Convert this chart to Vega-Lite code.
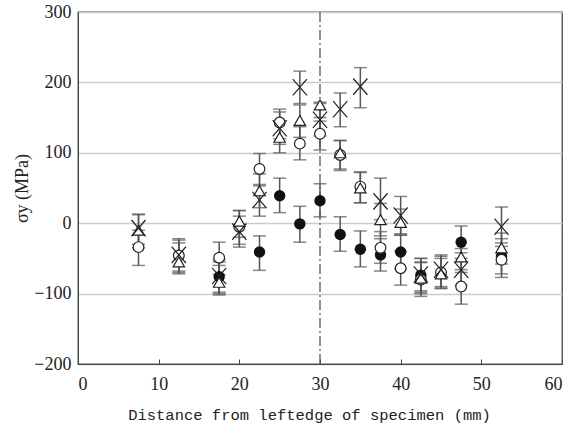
{
  "$schema": "https://vega.github.io/schema/vega-lite/v6.json",
  "width": 484,
  "height": 352,
  "autosize": {"type": "none"},
  "padding": {"left": 78, "top": 12, "right": 8, "bottom": 67},
  "background": "white",
  "config": {
    "view": {"stroke": "#444", "strokeWidth": 1.3},
    "axis": {"labelFont": "Liberation Serif", "labelFontSize": 18, "labelColor": "#222", "domainColor": "#444", "tickColor": "#444", "titleColor": "#222", "titleFontWeight": "normal"}
  },
  "data": {
    "values": [
      {"s": "filled", "x": 17.5, "y": -76, "lo": -100, "hi": -52},
      {"s": "filled", "x": 22.5, "y": -41, "lo": -67, "hi": -18},
      {"s": "filled", "x": 25, "y": 39, "lo": 15, "hi": 64},
      {"s": "filled", "x": 27.5, "y": -1, "lo": -27, "hi": 24},
      {"s": "filled", "x": 30, "y": 32, "lo": 9, "hi": 56},
      {"s": "filled", "x": 32.5, "y": -16, "lo": -40, "hi": 9},
      {"s": "filled", "x": 35, "y": -37, "lo": -62, "hi": -11},
      {"s": "filled", "x": 37.5, "y": -45, "lo": -68, "hi": -22},
      {"s": "filled", "x": 40, "y": -41, "lo": -65, "hi": -17},
      {"s": "filled", "x": 42.5, "y": -74, "lo": -98, "hi": -50},
      {"s": "filled", "x": 47.5, "y": -27, "lo": -50, "hi": -4},
      {"s": "filled", "x": 52.5, "y": -47, "lo": -72, "hi": -22},
      {"s": "open", "x": 7.5, "y": -34, "lo": -60, "hi": -10},
      {"s": "open", "x": 12.5, "y": -46, "lo": -70, "hi": -22},
      {"s": "open", "x": 17.5, "y": -49, "lo": -73, "hi": -27},
      {"s": "open", "x": 20, "y": -5, "lo": -30, "hi": 18},
      {"s": "open", "x": 22.5, "y": 77, "lo": 53, "hi": 99},
      {"s": "open", "x": 25, "y": 143, "lo": 120, "hi": 162},
      {"s": "open", "x": 27.5, "y": 113, "lo": 90, "hi": 137},
      {"s": "open", "x": 30, "y": 127, "lo": 104, "hi": 150},
      {"s": "open", "x": 32.5, "y": 97, "lo": 75, "hi": 117},
      {"s": "open", "x": 35, "y": 52, "lo": 29, "hi": 73},
      {"s": "open", "x": 37.5, "y": -35, "lo": -57, "hi": -12},
      {"s": "open", "x": 40, "y": -64, "lo": -88, "hi": -40},
      {"s": "open", "x": 42.5, "y": -80, "lo": -104, "hi": -56},
      {"s": "open", "x": 45, "y": -70, "lo": -93, "hi": -47},
      {"s": "open", "x": 47.5, "y": -90, "lo": -115, "hi": -66},
      {"s": "open", "x": 52.5, "y": -52, "lo": -77, "hi": -28},
      {"s": "tri", "x": 7.5, "y": -10, "lo": -35, "hi": 12},
      {"s": "tri", "x": 12.5, "y": -55, "lo": -72, "hi": -28},
      {"s": "tri", "x": 17.5, "y": -84, "lo": -102, "hi": -60},
      {"s": "tri", "x": 20, "y": 3, "lo": -20, "hi": 18},
      {"s": "tri", "x": 22.5, "y": 46, "lo": 22, "hi": 70},
      {"s": "tri", "x": 25, "y": 122, "lo": 100, "hi": 145},
      {"s": "tri", "x": 27.5, "y": 146, "lo": 122, "hi": 168},
      {"s": "tri", "x": 30, "y": 168, "lo": 145, "hi": 172},
      {"s": "tri", "x": 32.5, "y": 100, "lo": 77, "hi": 118},
      {"s": "tri", "x": 35, "y": 50, "lo": 29, "hi": 72},
      {"s": "tri", "x": 37.5, "y": 5, "lo": -18, "hi": 28},
      {"s": "tri", "x": 40, "y": 1, "lo": -17, "hi": 20},
      {"s": "tri", "x": 42.5, "y": -78, "lo": -100, "hi": -55},
      {"s": "tri", "x": 45, "y": -72, "lo": -92, "hi": -50},
      {"s": "tri", "x": 47.5, "y": -48, "lo": -70, "hi": -36},
      {"s": "tri", "x": 52.5, "y": -35, "lo": -58, "hi": -14},
      {"s": "x", "x": 7.5, "y": -7, "lo": -30, "hi": 13},
      {"s": "x", "x": 12.5, "y": -45, "lo": -68, "hi": -24},
      {"s": "x", "x": 17.5, "y": -75, "lo": -98, "hi": -55},
      {"s": "x", "x": 20, "y": -12, "lo": -34, "hi": 10},
      {"s": "x", "x": 22.5, "y": 33, "lo": 10, "hi": 55},
      {"s": "x", "x": 25, "y": 135, "lo": 112, "hi": 158},
      {"s": "x", "x": 27.5, "y": 193, "lo": 170, "hi": 216},
      {"s": "x", "x": 30, "y": 147, "lo": 124, "hi": 170},
      {"s": "x", "x": 32.5, "y": 162, "lo": 137, "hi": 185},
      {"s": "x", "x": 35, "y": 194, "lo": 164, "hi": 221},
      {"s": "x", "x": 37.5, "y": 31, "lo": 5, "hi": 64},
      {"s": "x", "x": 40, "y": 11, "lo": -15, "hi": 38},
      {"s": "x", "x": 42.5, "y": -73, "lo": -96, "hi": -50},
      {"s": "x", "x": 45, "y": -66, "lo": -90, "hi": -45},
      {"s": "x", "x": 47.5, "y": -66, "lo": -88, "hi": -42},
      {"s": "x", "x": 52.5, "y": -5, "lo": -33, "hi": 23}
    ]
  },
  "layer": [
    {
      "mark": {"type": "errorbar", "ticks": {"color": "#555"}, "rule": {"color": "#555"}, "size": 13, "thickness": 1.5},
      "encoding": {
        "x": {"field": "x", "type": "quantitative", "scale": {"domain": [0, 60], "nice": false},
          "axis": {"values": [0, 10, 20, 30, 40, 50, 60], "grid": false, "tickSize": -5, "labelPadding": 16,
            "title": "Distance from leftedge of specimen (mm)", "titleFont": "Liberation Mono", "titleFontSize": 15.5,
            "titleX": 231, "titleY": 50, "titleBaseline": "middle"}},
        "y": {"field": "lo", "type": "quantitative", "scale": {"domain": [-200, 300], "nice": false},
          "axis": {"values": [-200, -100, 0, 100, 200, 300], "grid": true, "gridColor": "#ccc", "gridWidth": 1.5, "tickSize": 0, "labelPadding": 7,
            "title": "σy (MPa)", "titleFont": "Liberation Serif", "titleFontSize": 18, "titleX": -56, "titleBaseline": "middle"}},
        "y2": {"field": "hi"}
      }
    },
    {
      "data": {"values": [{"x": 30}]},
      "mark": {"type": "rule", "color": "#555", "strokeWidth": 1.3, "strokeDash": [10, 3, 2, 3]},
      "encoding": {"x": {"field": "x", "type": "quantitative"}}
    },
    {
      "transform": [{"filter": "datum.s == 'filled'"}],
      "mark": {"type": "point", "shape": "circle", "filled": true, "color": "#111", "size": 130, "opacity": 1},
      "encoding": {"x": {"field": "x", "type": "quantitative"}, "y": {"field": "y", "type": "quantitative"}}
    },
    {
      "transform": [{"filter": "datum.s == 'open'"}],
      "mark": {"type": "point", "shape": "circle", "filled": false, "fill": "white", "stroke": "#222", "strokeWidth": 1.2, "size": 115, "opacity": 1, "fillOpacity": 1},
      "encoding": {"x": {"field": "x", "type": "quantitative"}, "y": {"field": "y", "type": "quantitative"}}
    },
    {
      "transform": [{"filter": "datum.s == 'tri'"}],
      "mark": {"type": "point", "shape": "triangle-up", "filled": false, "fill": "white", "stroke": "#222", "strokeWidth": 1.2, "size": 130, "opacity": 1, "fillOpacity": 1},
      "encoding": {"x": {"field": "x", "type": "quantitative"}, "y": {"field": "y", "type": "quantitative"}}
    },
    {
      "transform": [{"filter": "datum.s == 'x'"}],
      "mark": {"type": "point", "shape": "M-1,-1.15L1,1.15M-1,1.15L1,-1.15", "filled": false, "stroke": "#222", "strokeWidth": 1.2, "size": 200, "opacity": 1},
      "encoding": {"x": {"field": "x", "type": "quantitative"}, "y": {"field": "y", "type": "quantitative"}}
    }
  ]
}
